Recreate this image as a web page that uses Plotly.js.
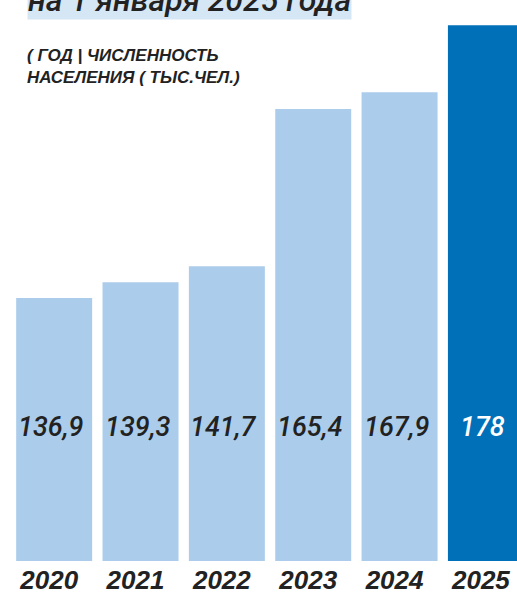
<!DOCTYPE html>
<html><head><meta charset="utf-8">
<script src="https://cdn.plot.ly/plotly-3.0.1.min.js"></script>
<style>html,body{margin:0;padding:0;background:#fff;}#chart{width:517px;height:594px;}</style>
</head><body><div id="chart"></div>
<script>
const years = ['2020','2021','2022','2023','2024','2025'];
const population = [136.9, 139.3, 141.7, 165.4, 167.9, 178];
const valueLabels = ['136,9','139,3','141,7','165,4','167,9','178'];
const titleText = 'на 1 января 2025 года';
const subtitleText = '( ГОД | ЧИСЛЕННОСТЬ<br>НАСЕЛЕНИЯ ( ТЫС.ЧЕЛ.)';

const light = '#abcdeb', dark = '#0070b8', ink = '#222222';
const FF = 'Liberation Sans, Arial, sans-serif';
const FM = 'Roboto, Liberation Sans, sans-serif';
const colors = years.map((y,i)=> i===years.length-1 ? dark : light);

const annotations = years.map((y,i)=>({
  x: i, xref:'x', y: 0.239, yref:'paper', yanchor:'middle', xanchor:'center', xshift:-3,
  text: valueLabels[i], showarrow:false,
  font:{family:FM, size:27, style:'italic', weight:500, color: i===years.length-1 ? '#ffffff' : ink}
}));
annotations.push({
  x: 16/517, xref:'paper', xanchor:'left', y: 1-20/561, yref:'paper', yanchor:'bottom',
  text: titleText, showarrow:false, bgcolor:'#d5e6f5', borderpad:0,
  font:{family:FM, size:32, style:'italic', weight:500, color:ink}
});
annotations.push({
  x: 14/517, xref:'paper', xanchor:'left', y: 1-44/561, yref:'paper', yanchor:'top',
  text: subtitleText, showarrow:false, align:'left',
  font:{family:FF, size:17, style:'italic', weight:'bold', color:ink}
});

Plotly.newPlot('chart', [{
  type:'bar', x: years, y: population, marker:{color: colors, line:{width:0}},
  hoverinfo:'none'
}], {
  width:517, height:594,
  margin:{l:11, r:0, t:0, b:33, pad:0},
  paper_bgcolor:'#fff', plot_bgcolor:'#fff',
  bargap:0.12, showlegend:false,
  xaxis:{type:'category', range:[-0.5, 5.36], showgrid:false, zeroline:false, showline:false,
    ticks:'', ticklen:0, ticklabelshift:-5, ticklabelstandoff:1,
    tickfont:{family:FF, size:26, style:'italic', weight:'bold', color:ink}},
  yaxis:{range:[97.3, 181.8], visible:false, showgrid:false, zeroline:false},
  annotations: annotations
}, {staticPlot:true, displayModeBar:false});
</script></body></html>
